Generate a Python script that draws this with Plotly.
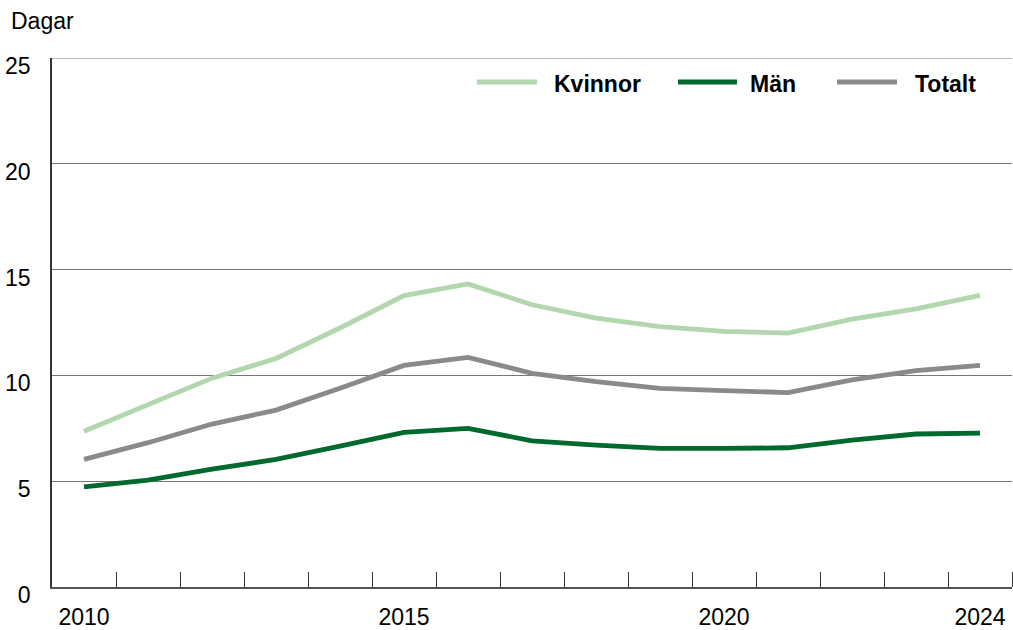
import plotly.graph_objects as go

years = list(range(2010, 2025))
kvinnor = [7.36, 8.6, 9.87, 10.8, 12.24, 13.77, 14.32, 13.34, 12.71, 12.31, 12.08, 12.0, 12.66, 13.14, 13.78]
man = [4.73, 5.05, 5.57, 6.03, 6.66, 7.31, 7.5, 6.91, 6.71, 6.55, 6.55, 6.58, 6.94, 7.23, 7.27]
totalt = [6.03, 6.82, 7.7, 8.36, 9.39, 10.47, 10.85, 10.1, 9.71, 9.39, 9.28, 9.19, 9.79, 10.23, 10.47]

series = [("Kvinnor", kvinnor, "#b2d6ae"), ("Män", man, "#006a2e"), ("Totalt", totalt, "#8a8a8a")]

x_labels = [2010, 2015, 2020, 2024]
y_ticks = [0, 5, 10, 15, 20, 25]

FONT = "Liberation Sans, Arial"
L, R, T, B = 52, 1, 58, 43
W, H = 1013, 630
PW, PH = W - L - R, H - T - B

def px_x(p):
    return (p - L) / PW

def px_y(p):
    return (H - B - p) / PH

fig = go.Figure()
for name, vals, col in series:
    fig.add_trace(go.Scatter(x=years, y=vals, name=name, mode="lines",
                             line=dict(color=col, width=4.8), showlegend=False))

# custom legend (line sample + bold label)
legend_pos = [(477, 537, 552), (678, 737, 748), (837, 897, 913)]
shapes = [dict(type="line", xref="paper", yref="y", x0=0, x1=1, y0=max(y_ticks), y1=max(y_ticks),
               line=dict(color="#777", width=1), layer="below")]
annotations = []
for (name, _, col), (x0, x1, xt) in zip(series, legend_pos):
    shapes.append(dict(type="line", xref="paper", yref="paper",
                       x0=px_x(x0), x1=px_x(x1), y0=px_y(82), y1=px_y(82),
                       line=dict(color=col, width=5)))
    annotations.append(dict(text=f"<b>{name}</b>", xref="paper", yref="paper",
                            x=px_x(xt), y=px_y(84), xanchor="left", yanchor="middle",
                            showarrow=False, font=dict(size=23, family=FONT, color="#000")))

annotations.append(dict(text="Dagar", xref="paper", yref="paper", x=px_x(9), y=px_y(21),
                        xanchor="left", yanchor="middle", showarrow=False,
                        font=dict(size=23, family=FONT, color="#000")))

fig.update_layout(
    width=W, height=H,
    margin=dict(l=L, r=R, t=T, b=B),
    plot_bgcolor="white", paper_bgcolor="white",
    font=dict(family=FONT, size=23, color="#000"),
    showlegend=False,
    xaxis=dict(range=[2009.5, 2024.5], tickmode="array", tickvals=x_labels,
               ticktext=[str(v) for v in x_labels], ticks="", showgrid=False,
               showline=True, linecolor="#555", linewidth=1.5, zeroline=False,
               ticklabelstandoff=9, automargin=False,
               minor=dict(tickmode="array", tickvals=[y + 0.5 for y in years[:-1]] + [2024.5],
                          ticks="inside", ticklen=15, tickcolor="#333", tickwidth=1, showgrid=False)),
    yaxis=dict(range=[0, 25], tickmode="array", tickvals=y_ticks, showgrid=True,
               gridcolor="#777", gridwidth=1, showline=True, linecolor="#333", linewidth=1.5,
               zeroline=False, ticks="", ticklabelstandoff=15, ticklabelshift=8,
               automargin=False),
    shapes=shapes,
    annotations=annotations,
)

fig.write_html("out.html", config={"displayModeBar": False},
               post_script="document.body.style.margin='0';")
